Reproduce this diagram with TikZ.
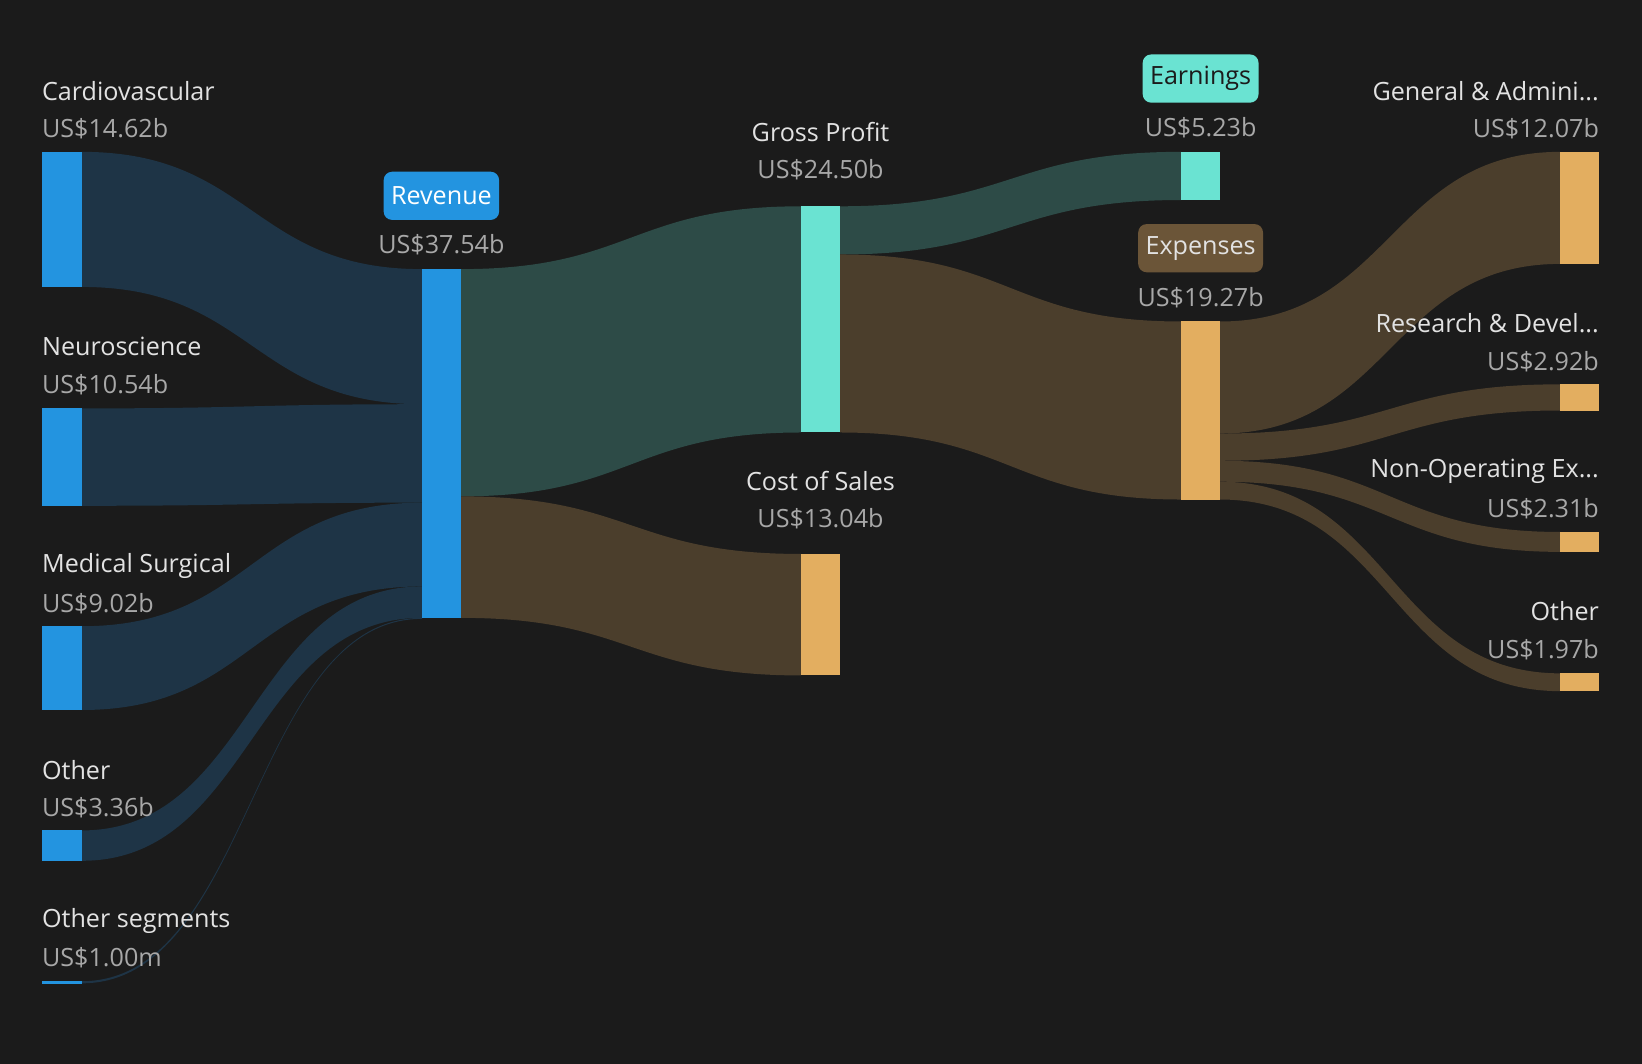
\documentclass[tikz,border=0pt]{standalone}
\usepackage{fontspec}
\setmainfont{Open Sans}
\begin{document}
\begin{tikzpicture}[x=1pt,y=-1pt]
\definecolor{bg}{HTML}{1B1B1B}
\definecolor{bflow}{HTML}{1E3446}
\definecolor{bbar}{HTML}{2394E0}
\definecolor{tflow}{HTML}{2D4B47}
\definecolor{tbar}{HTML}{6AE3D2}
\definecolor{oflow}{HTML}{4B3E2C}
\definecolor{obar}{HTML}{E3AE60}
\definecolor{nm}{HTML}{E2E2E2}
\definecolor{vl}{HTML}{A8A8A8}
\definecolor{expb}{HTML}{6B5538}
\tikzset{
 nm/.style={text=nm,font=\fontsize{24}{26}\selectfont,inner sep=0pt},
 vl/.style={text=vl,font=\fontsize{24}{26}\selectfont,inner sep=0pt},
 badge/.style={rounded corners=8pt,inner xsep=7pt,inner ysep=6pt,font=\fontsize{24}{26}\selectfont,minimum height=46pt}
}
\fill[bg] (0,0) rectangle (1568,1016);
\newcommand\flow[7]{\pgfmathsetmacro\mx{(#1+#4)/2}
 \fill[#7] (#1,#2) .. controls (\mx,#2) and (\mx,#5) .. (#4,#5) -- (#4,#6) .. controls (\mx,#6) and (\mx,#3) .. (#1,#3) -- cycle;}
% flows
\flow{78}{145}{274}{403}{257}{386}{bflow}
\flow{78}{390}{483}{403}{386}{480}{bflow}
\flow{78}{598}{678}{403}{480}{560}{bflow}
\flow{78}{793}{822}{403}{560}{590}{bflow}
\flow{78}{937}{939}{403}{590}{591}{bflow}
\flow{440}{257}{474}{765}{197}{413}{tflow}
\flow{440}{474}{590}{765}{529}{645}{oflow}
\flow{802}{197}{243}{1128}{145}{191}{tflow}
\flow{802}{243}{413}{1128}{307}{477}{oflow}
\flow{1165}{307}{414}{1490}{145}{252}{oflow}
\flow{1165}{414}{440}{1490}{367}{392}{oflow}
\flow{1165}{440}{460}{1490}{508}{527}{oflow}
\flow{1165}{460}{477}{1490}{643}{660}{oflow}
% bars
\fill[bbar] (40,145) rectangle (78,274);
\fill[bbar] (40,390) rectangle (78,483);
\fill[bbar] (40,598) rectangle (78,678);
\fill[bbar] (40,793) rectangle (78,822);
\fill[bbar] (40,937) rectangle (78,939.5);
\fill[bbar] (403,257) rectangle (440,590);
\fill[tbar] (765,197) rectangle (802,413);
\fill[obar] (765,529) rectangle (802,645);
\fill[tbar] (1128,145) rectangle (1165,191);
\fill[obar] (1128,307) rectangle (1165,477);
\fill[obar] (1490,145) rectangle (1527,252);
\fill[obar] (1490,367) rectangle (1527,392);
\fill[obar] (1490,508) rectangle (1527,527);
\fill[obar] (1490,643) rectangle (1527,660);
% left labels
\foreach \n/\v/\y [count=\i] in {Cardiovascular/US\$14.62b/87,Neuroscience/US\$10.54b/331,Medical Surgical/US\$9.02b/540,Other/US\$3.36b/735,Other segments/US\$1.00m/879}{
 \node[nm,anchor=west] (ln\i) at (40,\y) {\n};
 \node[vl,anchor=west] (lv\i) at (40,\y+36) {\v};}
% middle
\node[badge,fill=bbar,text=white] (rev) at (421.5,187) {Revenue};
\node[vl] (revv) at (421.5,234) {US\$37.54b};
\node[nm] (gp) at (783.5,126) {Gross Profit};
\node[vl] (gpv) at (783.5,162) {US\$24.50b};
\node[nm] (cs) at (783.5,459) {Cost of Sales};
\node[vl] (csv) at (783.5,495) {US\$13.04b};
\node[badge,fill=tbar,text=bg] (ear) at (1146.5,75) {Earnings};
\node[vl] (earv) at (1146.5,122) {US\$5.23b};
\node[badge,fill=expb,text=nm] (exp) at (1146.5,237) {Expenses};
\node[vl] (expv) at (1146.5,284) {US\$19.27b};
% right labels
\node[nm,anchor=east] (rn1) at (1527,87) {General \& Admini...};
\node[vl,anchor=east] (rv1) at (1527,123) {US\$12.07b};
\node[nm,anchor=east] (rn2) at (1527,309) {Research \& Devel...};
\node[vl,anchor=east] (rv2) at (1527,345) {US\$2.92b};
\node[nm,anchor=east] (rn3) at (1527,450) {Non-Operating Ex...};
\node[vl,anchor=east] (rv3) at (1527,486) {US\$2.31b};
\node[nm,anchor=east] (rn4) at (1527,584) {Other};
\node[vl,anchor=east] (rv4) at (1527,620) {US\$1.97b};
\end{tikzpicture}
\end{document}
